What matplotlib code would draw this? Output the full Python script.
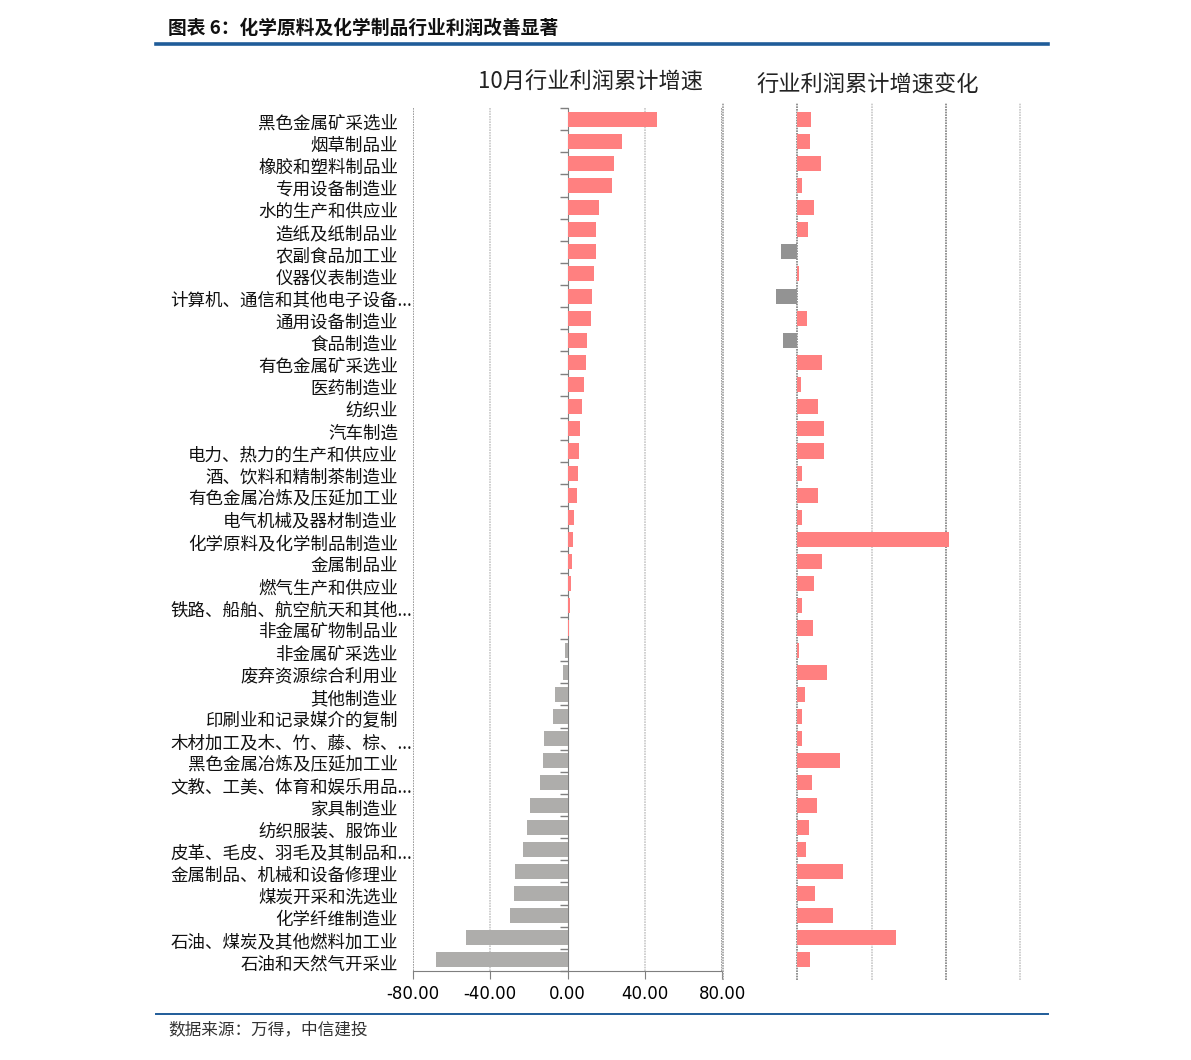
import numpy as np
import matplotlib
matplotlib.use("Agg")
import matplotlib.pyplot as plt
from matplotlib.lines import Line2D
from matplotlib.transforms import blended_transform_factory

plt.rcParams['font.family'] = ['Noto Sans CJK SC', 'DejaVu Sans']

# data
industries = [
    "黑色金属矿采选业", "烟草制品业", "橡胶和塑料制品业", "专用设备制造业", "水的生产和供应业",
    "造纸及纸制品业", "农副食品加工业", "仪器仪表制造业", "计算机、通信和其他电子设备…",
    "通用设备制造业", "食品制造业", "有色金属矿采选业", "医药制造业", "纺织业", "汽车制造",
    "电力、热力的生产和供应业", "酒、饮料和精制茶制造业", "有色金属冶炼及压延加工业",
    "电气机械及器材制造业", "化学原料及化学制品制造业", "金属制品业", "燃气生产和供应业",
    "铁路、船舶、航空航天和其他…", "非金属矿物制品业", "非金属矿采选业", "废弃资源综合利用业",
    "其他制造业", "印刷业和记录媒介的复制", "木材加工及木、竹、藤、棕、…",
    "黑色金属冶炼及压延加工业", "文教、工美、体育和娱乐用品…", "家具制造业",
    "纺织服装、服饰业", "皮革、毛皮、羽毛及其制品和…", "金属制品、机械和设备修理业",
    "煤炭开采和洗选业", "化学纤维制造业", "石油、煤炭及其他燃料加工业", "石油和天然气开采业",
]
profit_growth = [
    46.6, 28.3, 23.9, 22.9, 16.4, 14.8, 14.6, 13.8, 12.7, 12.2, 10.2, 9.6, 8.6, 7.6, 6.6,
    5.8, 5.3, 5.0, 3.5, 2.9, 2.4, 1.9, 1.4, 0.6, -1.4, -2.2, -6.7, -7.5, -12.3, -12.8,
    -14.1, -19.6, -21.1, -22.9, -27.3, -27.5, -29.9, -52.8, -68.3,
]
growth_change = [
    3.8, 3.3, 6.4, 1.2, 4.4, 2.8, -4.3, 0.5, -5.8, 2.5, -3.9, 6.7, 0.9, 5.6, 7.1,
    7.1, 1.3, 5.7, 1.2, 41.0, 6.7, 4.5, 1.3, 4.3, 0.5, 7.9, 2.1, 1.2, 1.2, 11.5,
    3.9, 5.4, 3.1, 2.3, 12.3, 4.7, 9.7, 26.7, 3.3,
]
left_ticks = [-80, -40, 0, 40, 80]
right_grid = [-20, 0, 20, 40, 60]

W, H = 1191, 1060
fig = plt.figure(figsize=(W / 100, H / 100), dpi=100)

def fx(px):
    return px / W

def fy(py):
    return 1 - py / H

n = len(industries)
y = np.arange(n)
top, bottom = 108, 971

# left panel
ax1 = fig.add_axes([fx(413), fy(bottom), fx(722) - fx(413), fy(top) - fy(bottom)])
pos_col, neg_col = '#FF8080', '#AEADAB'
ax1.barh(y, profit_growth, height=0.68,
         color=[pos_col if v >= 0 else neg_col for v in profit_growth], zorder=3)
ax1.set_xlim(-80, 80)
ax1.set_ylim(n - 0.5, -0.5)
for v, c in zip([-80, -40, 40, 80], ['#8c8c8c', '#c8c8c8', '#c8c8c8', '#8c8c8c']):
    ax1.axvline(v, color=c, lw=1.2, ls=(0, (1, 0.6)), zorder=1)
for s in ['top', 'right']:
    ax1.spines[s].set_visible(False)
ax1.spines['left'].set_position(('data', 0))
ax1.spines['left'].set_color('#7f7f7f')
ax1.spines['bottom'].set_color('#7f7f7f')
ax1.set_yticks(np.arange(-0.5, n, 1))
ax1.set_yticklabels([])
ax1.tick_params(axis='y', length=6, color='#7f7f7f', width=1)
ax1.set_xticks(left_ticks)
ax1.set_xticklabels([f"{v:.2f}" for v in left_ticks], fontsize=12, family='DejaVu Sans')
ax1.tick_params(axis='x', length=6, color='#7f7f7f', pad=4)

trans = blended_transform_factory(fig.transFigure, ax1.transData)
for i, name in enumerate(industries):
    if name.endswith('…'):
        ax1.text(fx(412), i + 0.2, name[:-1] + '...', transform=trans, ha='right', va='center',
                 fontsize=12.6, color='#111111', family=['Noto Sans CJK SC', 'DejaVu Sans'])
    else:
        ax1.text(fx(398), i + 0.2, name, transform=trans, ha='right', va='center',
                 fontsize=12.6, color='#111111')

# right panel
ax2 = fig.add_axes([fx(723), fy(bottom), fx(1020) - fx(723), fy(top) - fy(bottom)])
ax2.barh(y, growth_change, height=0.68,
         color=[pos_col if v >= 0 else '#939393' for v in growth_change], zorder=3)
ax2.set_xlim(-20, 60)
ax2.set_ylim(n - 0.5, -0.5)
for v, c in zip(right_grid, ['#9a9a9a', '#7f7f7f', '#c8c8c8', '#7f7f7f', '#c8c8c8']):
    ax2.axvline(v, ymin=-0.01, ymax=1.006, color=c, lw=1.2, ls=(0, (1, 0.6)), zorder=1, clip_on=False)
for s in ax2.spines.values():
    s.set_visible(False)
ax2.set_xticks([])
ax2.set_yticks([])

# panel titles
fig.text(fx(590), fy(82), "10月行业利润累计增速", ha='center', va='center', fontsize=16,
         fontweight='light', color='#222222')
fig.text(fx(868), fy(85), "行业利润累计增速变化", ha='center', va='center', fontsize=16,
         fontweight='light', color='#222222')

# header and footer
fig.text(fx(168), fy(28), "图表 6：化学原料及化学制品行业利润改善显著", ha='left', va='center',
         fontsize=13.5, fontweight='bold', color='#111111')
fig.add_artist(Line2D([fx(156), fx(1048)], [fy(44), fy(44)], color='#1F5C99', lw=2.6))
fig.add_artist(Line2D([fx(156), fx(1048)], [fy(1014), fy(1014)], color='#1F5C99', lw=1.4))
fig.text(fx(168), fy(1030), "数据来源：万得，中信建投", ha='left', va='center',
         fontsize=12, style='italic', color='#333333')

fig.savefig("out.png", dpi=100)
